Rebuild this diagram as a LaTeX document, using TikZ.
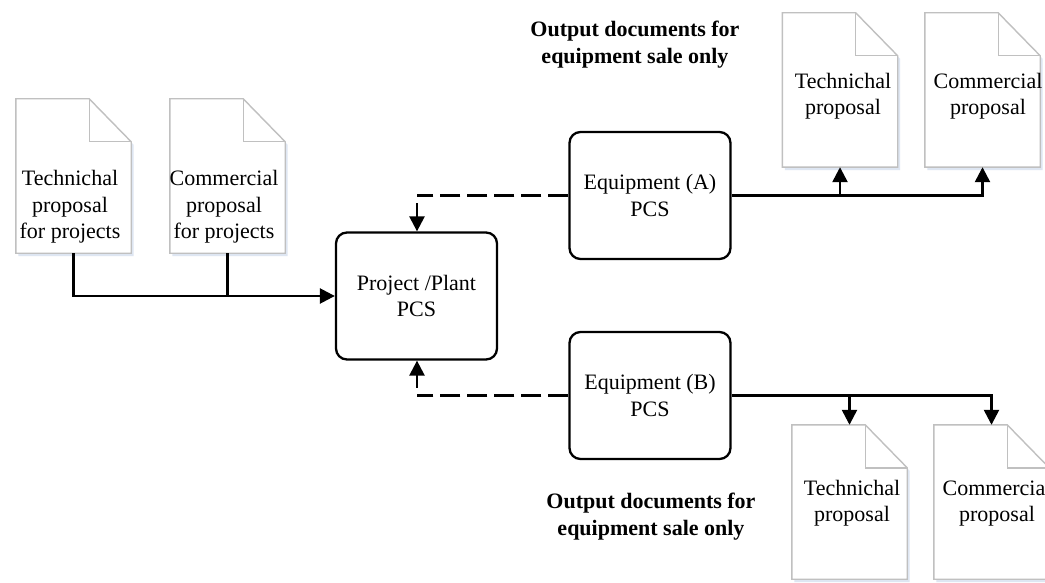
\documentclass[tikz,border=0pt]{standalone}
\usepackage{fontspec}
\setmainfont{Liberation Serif}
\usetikzlibrary{arrows.meta}
\definecolor{docgray}{RGB}{192,192,192}
\definecolor{docshade}{RGB}{222,230,242}
\newcommand\docpath[1]{(#1.south west) -- (#1.north west) -- ([xshift=-42pt]#1.north east) -- ([yshift=-43pt]#1.north east) -- (#1.south east) -- cycle}
\newcommand\docoutline[1]{%
  \fill[docshade, transform canvas={xshift=2.5pt,yshift=-3pt}] \docpath{#1};
  \fill[white] \docpath{#1};
  \draw[docline] \docpath{#1};
  \draw[docline] ([xshift=-42pt]#1.north east) -- ([xshift=-42pt,yshift=-43pt]#1.north east) -- ([yshift=-43pt]#1.north east);
}
\tikzset{
  txt/.style={font=\fontsize{22}{26.5}\selectfont, align=center, inner sep=0pt},
  boldtxt/.style={font=\fontsize{22}{27}\selectfont\bfseries, align=center, inner sep=0pt},
  docbox/.style={minimum width=115pt, minimum height=154pt, inner sep=0pt, draw=none},
  docline/.style={draw=docgray, line width=1.4pt, line join=miter},
  pcs/.style={draw=black, line width=2.3pt, rounded corners=11pt, minimum width=161pt, minimum height=127pt, inner sep=0pt, fill=white, font=\fontsize{22}{26.5}\selectfont, align=center},
  conn/.style={line width=2.5pt, draw=black},
  arr/.style={conn, -{Triangle[length=15pt, width=15pt]}},
  dashconn/.style={conn, dash pattern=on 20pt off 7pt},
}
\begin{document}
\begin{tikzpicture}[x=1pt, y=-1pt]
\useasboundingbox (0,0) rectangle (1045,583);
\fill[white] (0,0) rectangle (1045,583);

% document nodes
\node[docbox] (d1) at (73.5,176) {};
\node[docbox] (d2) at (227.5,176) {};
\node[docbox] (d3) at (840,90) {};
\node[docbox] (d4) at (982.5,90) {};
\node[docbox] (d5) at (849.5,502) {};
\node[docbox] (d6) at (991.5,502) {};
\docoutline{d1}
\docoutline{d2}
\docoutline{d3}
\docoutline{d4}
\docoutline{d5}
\docoutline{d6}

\node[txt] (t1) at (70,207) {Technichal\\proposal\\for projects};
\node[txt] (t2) at (224,207) {Commercial\\proposal\\for projects};
\node[txt] (t3) at (843,96) {Technichal\\proposal};
\node[txt] (t4) at (988,96) {Commercial\\proposal};
\node[txt] (t5) at (852,503) {Technichal\\proposal};
\node[txt] (t6) at (997,503) {Commercial\\proposal};

% process boxes
\node[pcs] (proj) at (416.5,296) {Project /Plant\\PCS};
\node[pcs] (eqA) at (650,195.5) {Equipment (A)\\PCS};
\node[pcs] (eqB) at (650,395.5) {Equipment (B)\\PCS};

% labels
\node[boldtxt] (lblA) at (635,45) {Output documents for\\equipment sale only};
\node[boldtxt] (lblB) at (651,517) {Output documents for\\equipment sale only};

% inputs
\draw[arr] (d1.south) |- (proj.west);
\draw[conn] (d2.south) -- (d2.south |- proj.west);

% outputs A
\draw[arr] (eqA.east) -| (d4.south);
\draw[arr] (d3.south |- eqA.east) -- (d3.south);
% outputs B
\draw[arr] (eqB.east) -| (d6.north);
\draw[arr] (d5.north |- eqB.east) -- (d5.north);

% feedback dashed
\coordinate (cA) at (417,195.5);
\coordinate (cB) at (417,395.5);
\draw[dashconn] (eqA.west) -- (cA);
\draw[arr] ([yshift=-8pt]cA) -- (proj.north -| cA);
\draw[dashconn] (eqB.west) -- (cB);
\draw[arr] ([yshift=8pt]cB) -- (proj.south -| cB);
\end{tikzpicture}
\end{document}
